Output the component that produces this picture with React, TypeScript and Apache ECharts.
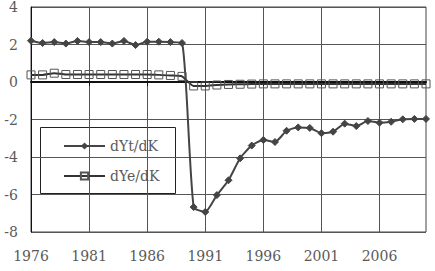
import React, { useEffect, useRef } from "react";
import * as echarts from "echarts";

const years: string[] = [
  "1976","1977","1978","1979","1980","1981","1982","1983","1984","1985",
  "1986","1987","1988","1989","1990","1991","1992","1993","1994","1995",
  "1996","1997","1998","1999","2000","2001","2002","2003","2004","2005",
  "2006","2007","2008","2009","2010",
];

const dYtdK: number[] = [
  2.2, 2.08, 2.13, 2.05, 2.19, 2.13, 2.13, 2.05, 2.19, 1.97,
  2.15, 2.15, 2.13, 2.08, -6.67, -6.93, -6.03, -5.24, -4.07, -3.39,
  -3.09, -3.2, -2.6, -2.42, -2.45, -2.73, -2.65, -2.22, -2.35, -2.08,
  -2.17, -2.12, -1.99, -1.97, -1.97,
];

const dYedK: number[] = [
  0.38, 0.38, 0.47, 0.4, 0.4, 0.4, 0.4, 0.4, 0.4, 0.4,
  0.4, 0.38, 0.35, 0.3, -0.21, -0.21, -0.16, -0.13, -0.12, -0.11,
  -0.1, -0.1, -0.1, -0.1, -0.1, -0.1, -0.1, -0.1, -0.1, -0.1,
  -0.1, -0.1, -0.1, -0.1, -0.1,
];

const seriesNames = ["dYt/dK", "dYe/dK"];

const FONT = "DejaVu Serif";
const TEXT = "#5a5a5a";

export default function App() {
  const ref = useRef<HTMLDivElement>(null);
  useEffect(() => {
    if (!ref.current) return;
    const chart = echarts.init(ref.current, null, { renderer: "svg" });
    chart.setOption({
      animation: false,
      backgroundColor: "#fff",
      grid: {
        left: 31,
        right: 9,
        top: 5,
        bottom: 39,
        show: true,
        borderColor: "#444",
        borderWidth: 1,
      },
      legend: {
        orient: "vertical",
        left: 58,
        top: 134,
        itemWidth: 41,
        itemHeight: 9,
        itemGap: 16,
        data: seriesNames,
        textStyle: { fontFamily: FONT, fontSize: 14, color: TEXT },
      },
      graphic: [
        {
          type: "rect",
          shape: { x: 40.5, y: 127.5, width: 135, height: 66 },
          style: { fill: "#fff", stroke: "#222", lineWidth: 1 },
          z: 0,
          zlevel: 0,
        },
      ],
      xAxis: [
        {
          type: "category",
          data: years,
          boundaryGap: false,
          position: "bottom",
          axisLine: { onZero: true, lineStyle: { color: "#111", width: 2 } },
          axisTick: { show: true, interval: 4, length: 4, lineStyle: { color: "#111" } },
          axisLabel: { show: false },
          splitLine: { show: true, interval: 4, lineStyle: { color: "#555", width: 1 } },
        },
        {
          type: "category",
          data: years,
          boundaryGap: false,
          position: "bottom",
          axisLine: { show: false, onZero: false },
          axisTick: { show: false },
          axisLabel: {
            show: true,
            interval: 4,
            margin: 17,
            fontFamily: FONT,
            fontSize: 14,
            color: TEXT,
          },
          splitLine: { show: false },
        },
      ],
      yAxis: {
        type: "value",
        min: -8,
        max: 4,
        interval: 2,
        axisLine: { show: true, lineStyle: { color: "#111" } },
        axisTick: { show: false },
        axisLabel: { margin: 13, fontFamily: FONT, fontSize: 14, color: TEXT },
        splitLine: { show: true, lineStyle: { color: "#555", width: 1 } },
      },
      series: [
        {
          name: seriesNames[0],
          type: "line",
          xAxisIndex: 0,
          data: dYtdK,
          smooth: 0.2,
          showAllSymbol: true,
          symbol: "diamond",
          symbolSize: 7,
          lineStyle: { color: "#444", width: 2 },
          itemStyle: { color: "#444", borderColor: "#444" },
          z: 3,
        },
        {
          name: seriesNames[1],
          type: "line",
          xAxisIndex: 0,
          data: dYedK,
          smooth: 0.2,
          showAllSymbol: true,
          symbol: "rect",
          symbolSize: 8,
          lineStyle: { color: "#333", width: 2 },
          itemStyle: { color: "rgba(255,255,255,0)", borderColor: "#555", borderWidth: 1 },
          z: 4,
        },
      ],
    });
    return () => chart.dispose();
  }, []);
  return (
    <div
      ref={ref}
      style={{ position: "fixed", left: 0, top: 0, width: 435, height: 271 }}
    />
  );
}
